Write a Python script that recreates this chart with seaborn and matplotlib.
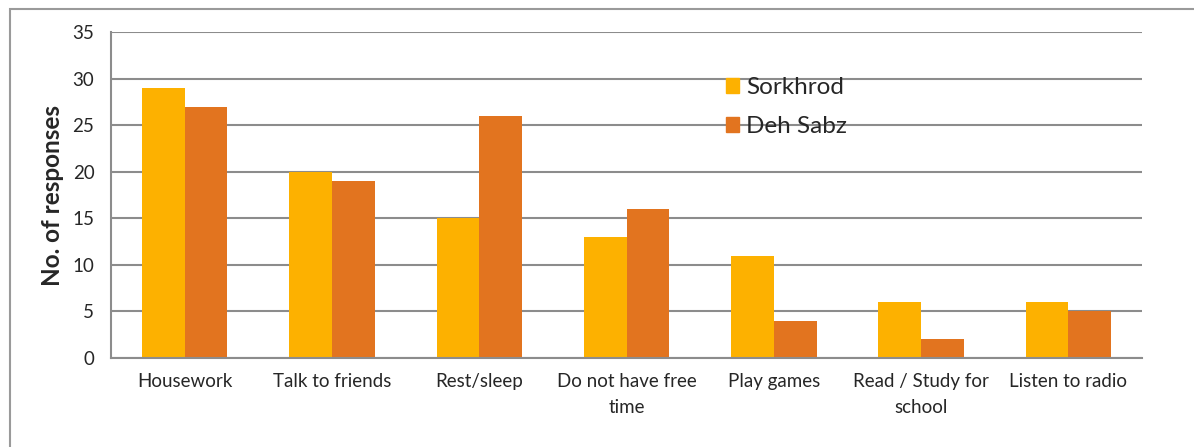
import matplotlib.pyplot as plt
import matplotlib.patches as mpatches
import seaborn as sns
import pandas as pd
import numpy as np

# data
categories = ["Housework", "Talk to friends", "Rest/sleep", "Do not have free\ntime",
              "Play games", "Read / Study for\nschool", "Listen to radio"]
sorkhrod = [29, 20, 15, 13, 11, 6, 6]
deh_sabz = [27, 19, 26, 16, 4, 2, 5]
series = ["Sorkhrod", "Deh Sabz"]
colors = ["#FDB100", "#E2741F"]

df = pd.DataFrame({
    "cat": categories * 2,
    "val": sorkhrod + deh_sabz,
    "site": [series[0]] * len(categories) + [series[1]] * len(categories),
})

sns.set_style("white")
plt.rcParams["font.family"] = ["Lato", "DejaVu Sans"]

fig = plt.figure(figsize=(11.94, 4.47), dpi=100)
ax = fig.add_axes([0.093, 0.199, 0.8635, 0.729])

sns.barplot(data=df, x="cat", y="val", hue="site", palette=colors,
            width=0.58, gap=0, ax=ax, legend=False, saturation=1, linewidth=0)

ax.set_ylim(0, 35)
ax.set_yticks(np.arange(0, 36, 5))
ax.set_xlim(-0.5, len(categories) - 0.5)
ax.yaxis.grid(True, color="#8c8c8c", linewidth=1.5)
ax.set_axisbelow(True)
for s in ["top", "right"]:
    ax.spines[s].set_visible(False)
for s in ["left", "bottom"]:
    ax.spines[s].set_color("#8c8c8c")
    ax.spines[s].set_linewidth(1.5)

ax.tick_params(axis="y", length=6, width=1.5, color="#8c8c8c", labelsize=13.5, pad=6)
ax.tick_params(axis="x", which="major", length=0, labelsize=13.5, pad=11)
for lbl in ax.get_xticklabels():
    lbl.set_linespacing(1.6)
ax.set_xticks(np.arange(-0.5, len(categories), 1.0), minor=True)
ax.tick_params(axis="x", which="minor", length=6, width=1.5, color="#8c8c8c")
ax.set_xlabel("")
ax.set_ylabel("No. of responses", fontsize=17.5, fontweight="bold", labelpad=6)

handles = [mpatches.Patch(color=c, label=s) for c, s in zip(colors, series)]
ax.legend(handles=handles, loc="upper left", bbox_to_anchor=(0.575, 0.93),
          frameon=False, fontsize=17.5, handlelength=0.55, handleheight=0.6,
          handletextpad=0.3, labelspacing=0.75)

# outer frame around the chart
fig.patches.append(mpatches.Rectangle((10 / 1194, -0.1), 1.2, 1 - 9 / 447 + 0.1,
                                      transform=fig.transFigure, fill=False,
                                      edgecolor="#9a9a9a", linewidth=1.5))

fig.savefig("out.png", dpi=100)
